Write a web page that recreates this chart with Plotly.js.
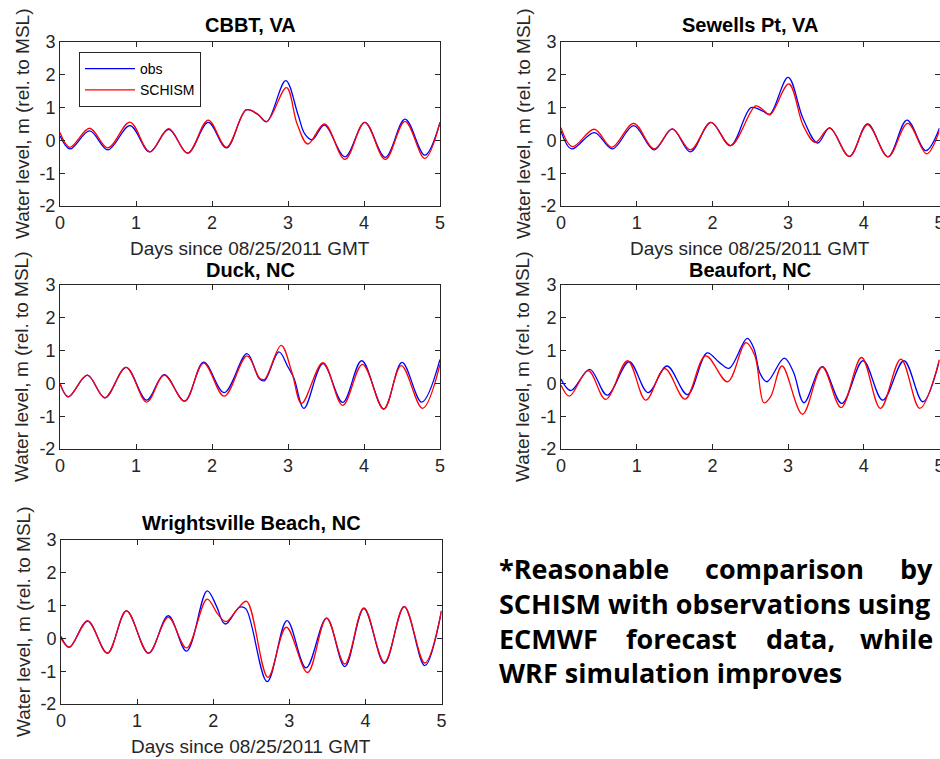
<!DOCTYPE html>
<html>
<head>
<meta charset="utf-8">
<script src="https://cdn.plot.ly/plotly-3.0.1.min.js"></script>
<style>html,body{margin:0;padding:0;background:#fff;}#chart{width:940px;height:759px;}</style>
</head>
<body>
<div id="chart"></div>
<script>
// ---------------- DATA ----------------
const stations = ["CBBT, VA", "Sewells Pt, VA", "Duck, NC", "Beaufort, NC", "Wrightsville Beach, NC"];
const seriesNames = ["obs", "SCHISM"];
const xTicks = [0, 1, 2, 3, 4, 5];
const yTicks = [-2, -1, 0, 1, 2, 3];

// CBBT, VA
const cbbtObsT = [0, 0.13, 0.39, 0.63, 0.92, 1.18, 1.43, 1.68, 1.95, 2.19, 2.45, 2.60, 2.72, 2.97, 3.13, 3.22, 3.32, 3.48, 3.75, 4.01, 4.28, 4.54, 4.80, 5.0];
const cbbtObsY = [0.14, -0.26, 0.29, -0.29, 0.45, -0.35, 0.34, -0.39, 0.55, -0.23, 0.93, 0.80, 0.57, 1.82, 0.80, 0.20, 0.02, 0.47, -0.50, 0.55, -0.52, 0.65, -0.45, 0.55];
const cbbtModT = [0, 0.13, 0.39, 0.63, 0.92, 1.18, 1.43, 1.68, 1.95, 2.19, 2.45, 2.60, 2.72, 2.98, 3.12, 3.26, 3.48, 3.75, 4.01, 4.28, 4.54, 4.80, 5.0];
const cbbtModY = [0.24, -0.21, 0.37, -0.23, 0.56, -0.35, 0.36, -0.39, 0.62, -0.21, 0.93, 0.80, 0.57, 1.61, 0.50, -0.11, 0.50, -0.58, 0.55, -0.58, 0.58, -0.55, 0.55];

// Sewells Pt, VA
const sewObsT = [0, 0.14, 0.44, 0.68, 0.96, 1.23, 1.47, 1.71, 1.98, 2.24, 2.51, 2.66, 2.76, 3.00, 3.20, 3.39, 3.55, 3.81, 4.05, 4.32, 4.57, 4.82, 5.0];
const sewObsY = [0.29, -0.26, 0.24, -0.26, 0.45, -0.29, 0.35, -0.35, 0.55, -0.16, 1.00, 0.90, 0.80, 1.92, 0.65, -0.08, 0.38, -0.49, 0.50, -0.50, 0.62, -0.31, 0.38];
const sewModT = [0, 0.15, 0.44, 0.67, 0.96, 1.23, 1.47, 1.71, 1.98, 2.24, 2.57, 2.66, 2.76, 3.01, 3.20, 3.36, 3.55, 3.81, 4.05, 4.32, 4.58, 4.83, 5.0];
const sewModY = [0.39, -0.19, 0.34, -0.21, 0.52, -0.26, 0.35, -0.29, 0.55, -0.16, 1.05, 0.95, 0.78, 1.72, 0.45, -0.06, 0.38, -0.49, 0.48, -0.50, 0.52, -0.41, 0.30];

// Duck, NC
const duckObsT = [0, 0.11, 0.36, 0.59, 0.87, 1.14, 1.37, 1.64, 1.89, 2.16, 2.46, 2.62, 2.69, 2.88, 3.00, 3.08, 3.21, 3.46, 3.72, 3.97, 4.26, 4.50, 4.76, 5.0];
const duckObsY = [0.0, -0.41, 0.25, -0.44, 0.49, -0.51, 0.27, -0.54, 0.65, -0.28, 0.91, 0.15, 0.08, 0.96, 0.50, 0.15, -0.76, 0.60, -0.58, 0.69, -0.78, 0.64, -0.57, 0.73];
const duckModT = [0, 0.11, 0.36, 0.59, 0.87, 1.14, 1.37, 1.64, 1.89, 2.16, 2.46, 2.63, 2.69, 2.91, 3.05, 3.18, 3.46, 3.72, 3.98, 4.26, 4.49, 4.77, 5.0];
const duckModY = [0.0, -0.41, 0.25, -0.44, 0.49, -0.57, 0.25, -0.54, 0.62, -0.39, 0.84, 0.15, 0.12, 1.16, 0.35, -0.61, 0.63, -0.67, 0.58, -0.78, 0.54, -0.76, 0.58];

// Beaufort, NC
const beauObsT = [0, 0.13, 0.38, 0.61, 0.90, 1.15, 1.40, 1.67, 1.93, 2.09, 2.22, 2.46, 2.55, 2.63, 2.72, 2.95, 3.07, 3.21, 3.45, 3.71, 3.99, 4.25, 4.53, 4.78, 5.0];
const beauObsY = [0.13, -0.22, 0.43, -0.36, 0.66, -0.28, 0.53, -0.34, 0.93, 0.64, 0.46, 1.37, 1.05, 0.30, 0.05, 0.77, 0.35, -0.59, 0.51, -0.61, 0.69, -0.51, 0.69, -0.56, 0.71];
const beauModT = [0, 0.11, 0.36, 0.59, 0.88, 1.12, 1.37, 1.64, 1.91, 2.20, 2.44, 2.56, 2.68, 2.77, 2.92, 3.19, 3.45, 3.70, 3.97, 4.22, 4.49, 4.74, 5.0];
const beauModY = [-0.05, -0.39, 0.39, -0.49, 0.69, -0.51, 0.45, -0.48, 0.84, 0.05, 1.24, 0.85, -0.59, -0.40, 0.53, -0.94, 0.50, -0.74, 0.79, -0.76, 0.74, -0.76, 0.73];

// Wrightsville Beach, NC
const wriObsT = [0, 0.11, 0.35, 0.61, 0.86, 1.15, 1.41, 1.65, 1.92, 2.04, 2.13, 2.17, 2.35, 2.43, 2.71, 2.97, 3.22, 3.49, 3.73, 3.98, 4.25, 4.51, 4.78, 5.0];
const wriObsY = [0.06, -0.27, 0.53, -0.45, 0.84, -0.45, 0.69, -0.39, 1.45, 1.00, 0.49, 0.44, 0.95, 0.90, -1.32, 0.54, -0.90, 0.62, -0.86, 0.91, -0.76, 0.97, -0.83, 0.84];
const wriModT = [0, 0.11, 0.35, 0.61, 0.86, 1.15, 1.41, 1.65, 1.92, 2.06, 2.17, 2.32, 2.44, 2.72, 2.96, 3.24, 3.49, 3.73, 3.98, 4.25, 4.51, 4.78, 5.0];
const wriModY = [0.0, -0.27, 0.53, -0.45, 0.84, -0.45, 0.64, -0.29, 1.20, 0.74, 0.51, 0.90, 1.13, -1.19, 0.34, -1.04, 0.62, -0.78, 0.93, -0.73, 0.97, -0.75, 0.84];

const xLabel = "Days since 08/25/2011 GMT";
const yLabel = "Water level, m (rel. to MSL)";
const noteLines = [
  ["*Reasonable", "comparison", "by"],
  ["SCHISM with observations using"],
  ["ECMWF", "forecast", "data,", "while"],
  ["WRF simulation improves"]
];

// ---------------- LAYOUT HELPERS ----------------
const W = 940, H = 759;
const px = v => v / W;
const py = v => 1 - v / H;

// panel boxes in pixels: [left, right, top, bottom]
const boxes = [
  [60, 440, 42, 206],
  [561, 939.5, 42, 206],
  [60, 440, 285, 449],
  [561, 939.5, 285, 449],
  [61, 441.5, 540, 704]
];
const titleOffset = [17, 17, 15, 15, 17];
const obsT = [cbbtObsT, sewObsT, duckObsT, beauObsT, wriObsT];
const obsY = [cbbtObsY, sewObsY, duckObsY, beauObsY, wriObsY];
const modT = [cbbtModT, sewModT, duckModT, beauModT, wriModT];
const modY = [cbbtModY, sewModY, duckModY, beauModY, wriModY];

const axColor = '#262626';
const FAM = 'Liberation Sans, Arial, sans-serif';
const tickFont = {family: FAM, size: 18, color: axColor};

const data = [];
const layout = {
  width: W, height: H,
  margin: {l: 0, r: 0, t: 0, b: 0},
  paper_bgcolor: '#fff', plot_bgcolor: '#fff',
  showlegend: true,
  legend: {
    x: px(79), y: py(52), xanchor: 'left', yanchor: 'top',
    bgcolor: '#fff', bordercolor: axColor, borderwidth: 1,
    font: {family: FAM, size: 14, color: '#000'},
    tracegroupgap: 0, itemwidth: 50
  },
  annotations: [],
  font: {family: FAM}
};

boxes.forEach((b, i) => {
  const n = i + 1;
  const xa = 'xaxis' + (n === 1 ? '' : n);
  const ya = 'yaxis' + (n === 1 ? '' : n);
  const xr = 'x' + (n === 1 ? '' : n);
  const yr = 'y' + (n === 1 ? '' : n);
  layout[xa] = {
    domain: [px(b[0]), px(b[1])], anchor: yr, range: [0, 5],
    tickvals: xTicks, ticktext: xTicks.map(String),
    ticks: 'inside', ticklen: 5, tickcolor: axColor,
    showline: true, linecolor: axColor, linewidth: 1, mirror: 'ticks',
    showgrid: false, zeroline: false, tickfont: tickFont, fixedrange: true,
    ticklabeloverflow: 'allow'
  };
  layout[ya] = {
    domain: [py(b[3]), py(b[2])], anchor: xr, range: [-2, 3],
    tickvals: yTicks, ticktext: yTicks.map(String),
    ticks: 'inside', ticklen: 5, tickcolor: axColor,
    showline: true, linecolor: axColor, linewidth: 1, mirror: 'ticks',
    showgrid: false, zeroline: false, tickfont: tickFont, fixedrange: true
  };
  data.push({
    x: obsT[i], y: obsY[i], xaxis: xr, yaxis: yr, type: 'scatter', mode: 'lines',
    name: seriesNames[0], showlegend: i === 0, legendrank: 1,
    line: {color: '#0000ff', width: 1.3, shape: 'spline', smoothing: 1}
  });
  data.push({
    x: modT[i], y: modY[i], xaxis: xr, yaxis: yr, type: 'scatter', mode: 'lines',
    name: seriesNames[1], showlegend: i === 0, legendrank: 2,
    line: {color: '#ff0000', width: 1.3, shape: 'spline', smoothing: 1}
  });
  // panel title
  layout.annotations.push({
    text: '<b>' + stations[i] + '</b>', xref: 'paper', yref: 'paper',
    x: px((b[0] + Math.min(b[1], 940)) / 2), y: py(b[2] - titleOffset[i]), xanchor: 'center', yanchor: 'middle',
    showarrow: false, font: {family: FAM, size: 20, color: '#000'}
  });
  // y label
  layout.annotations.push({
    text: yLabel, xref: 'paper', yref: 'paper', textangle: -90,
    x: px(b[0] - 38), y: py((b[2] + b[3]) / 2), xanchor: 'center', yanchor: 'middle',
    showarrow: false, font: {family: FAM, size: 19, color: axColor}
  });
  // x label (not drawn for the middle row)
  if (i !== 2 && i !== 3) {
    layout.annotations.push({
      text: xLabel, xref: 'paper', yref: 'paper',
      x: px((b[0] + b[1]) / 2), y: py(b[3] + 42), xanchor: 'center', yanchor: 'middle',
      showarrow: false, font: {family: FAM, size: 19, color: axColor}
    });
  }
});

// justified note text
const noteFont = {family: 'Open Sans, Noto Sans, sans-serif', size: 27, color: '#000'};
const noteLeft = 497, noteRight = 935;
const noteYs = [568, 603, 638, 672];
const wordCenters = {1: [null, 784, null], 3: [null, 681, 800, null]};
noteLines.forEach((words, li) => {
  if (words.length === 1) {
    layout.annotations.push({
      text: '<b>' + words[0] + '</b>', xref: 'paper', yref: 'paper',
      x: px(noteLeft), y: py(noteYs[li]), xanchor: 'left', yanchor: 'middle',
      showarrow: false, font: noteFont
    });
  } else {
    const centers = wordCenters[li + 1];
    words.forEach((w, wi) => {
      let x, anchor;
      if (wi === 0) { x = noteLeft; anchor = 'left'; }
      else if (wi === words.length - 1) { x = noteRight; anchor = 'right'; }
      else { x = centers[wi]; anchor = 'center'; }
      layout.annotations.push({
        text: '<b>' + w + '</b>', xref: 'paper', yref: 'paper',
        x: px(x), y: py(noteYs[li]), xanchor: anchor, yanchor: 'middle',
        showarrow: false, font: noteFont
      });
    });
  }
});

Plotly.newPlot('chart', data, layout, {displayModeBar: false, staticPlot: true});
</script>
</body>
</html>
